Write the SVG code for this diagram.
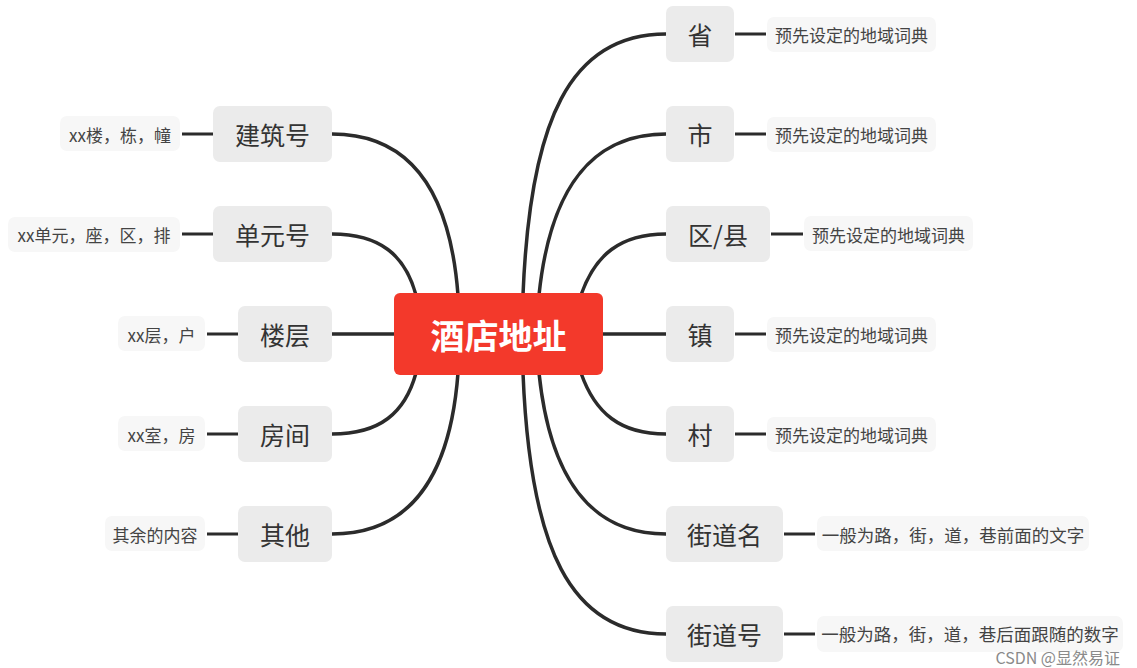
<svg xmlns="http://www.w3.org/2000/svg" width="1137" height="668" viewBox="0 0 1137 668">
<style>
.c{fill:none;stroke:#2b2b2b;stroke-width:3.5;stroke-linecap:round}
.l{fill:none;stroke:#2b2b2b;stroke-width:3}
.n rect{fill:#ebebeb}
.n text{font-family:"Noto Sans CJK SC","Noto Sans",sans-serif;font-size:25px;fill:#333;text-anchor:middle;dominant-baseline:central}
.f rect{fill:#f7f7f7}
.f text{font-family:"Noto Sans CJK SC","Noto Sans",sans-serif;font-size:17px;fill:#444;text-anchor:middle;dominant-baseline:central}
</style>
<rect width="1137" height="668" fill="#ffffff"/>
<g id="connectors">
<path class="c" d="M458 295 C450 190 410 134 332 134"/>
<path class="c" d="M416 295 C405 255 380 234 332 234"/>
<path class="c" d="M394 334 L332 334"/>
<path class="c" d="M416 373 C405 413 380 434 332 434"/>
<path class="c" d="M458 373 C450 478 410 534 332 534"/>
<path class="c" d="M523 295 C530 120 570 34 666 34"/>
<path class="c" d="M539 295 C550 190 590 134 666 134"/>
<path class="c" d="M581 295 C595 255 620 234 666 234"/>
<path class="c" d="M603 334 L666 334"/>
<path class="c" d="M581 373 C595 413 620 434 666 434"/>
<path class="c" d="M539 373 C550 478 590 534 666 534"/>
<path class="c" d="M523 373 C530 548 570 634 666 634"/>
<path class="l" d="M182 134H213M182 234H213M207 334H238M207 434H238M207 534H238"/>
<path class="l" d="M735 34H766M735 134H766M771 234H803M735 334H766M735 434H766M784 534H815M784 634H815"/>
</g>
<g id="center">
<rect x="394" y="293" width="209" height="82" rx="6" fill="#f3392b"/>
<text x="498.5" y="334" font-family="'Noto Sans CJK SC','Noto Sans',sans-serif" font-size="34" font-weight="bold" fill="#ffffff" text-anchor="middle" dominant-baseline="central">酒店地址</text>
</g>
<g id="n-jianzhu" class="n"><rect x="213" y="106" width="119" height="56" rx="7"/><text x="272.5" y="134">建筑号</text></g>
<g id="n-danyuan" class="n"><rect x="213" y="206" width="119" height="56" rx="7"/><text x="272.5" y="234">单元号</text></g>
<g id="n-louceng" class="n"><rect x="238" y="306" width="94" height="56" rx="7"/><text x="285" y="334">楼层</text></g>
<g id="n-fangjian" class="n"><rect x="238" y="406" width="94" height="56" rx="7"/><text x="285" y="434">房间</text></g>
<g id="n-qita" class="n"><rect x="238" y="506" width="94" height="56" rx="7"/><text x="285" y="534">其他</text></g>
<g id="n-sheng" class="n"><rect x="666" y="6" width="68" height="56" rx="7"/><text x="700" y="34">省</text></g>
<g id="n-shi" class="n"><rect x="666" y="106" width="68" height="56" rx="7"/><text x="700" y="134">市</text></g>
<g id="n-qu" class="n"><rect x="666" y="206" width="104" height="56" rx="7"/><text x="718" y="234">区/县</text></g>
<g id="n-zhen" class="n"><rect x="666" y="306" width="68" height="56" rx="7"/><text x="700" y="334">镇</text></g>
<g id="n-cun" class="n"><rect x="666" y="406" width="68" height="56" rx="7"/><text x="700" y="434">村</text></g>
<g id="n-jiedaoming" class="n"><rect x="666" y="506" width="117" height="56" rx="7"/><text x="724.5" y="534">街道名</text></g>
<g id="n-jiedaohao" class="n"><rect x="666" y="606" width="117" height="56" rx="7"/><text x="724.5" y="634">街道号</text></g>
<g id="f-jianzhu" class="f"><rect x="60" y="116" width="120" height="35" rx="7"/><text x="120" y="134">xx楼，栋，幢</text></g>
<g id="f-danyuan" class="f"><rect x="8" y="217" width="172" height="35" rx="7"/><text x="94" y="234">xx单元，座，区，排</text></g>
<g id="f-louceng" class="f"><rect x="118" y="316" width="87" height="35" rx="7"/><text x="161.5" y="334">xx层，户</text></g>
<g id="f-fangjian" class="f"><rect x="118" y="416" width="87" height="35" rx="7"/><text x="161.5" y="434">xx室，房</text></g>
<g id="f-qita" class="f"><rect x="105" y="516" width="100" height="35" rx="7"/><text x="155" y="534">其余的内容</text></g>
<g id="f-sheng" class="f"><rect x="767" y="17" width="169" height="35" rx="7"/><text x="851.5" y="34">预先设定的地域词典</text></g>
<g id="f-shi" class="f"><rect x="767" y="117" width="169" height="35" rx="7"/><text x="851.5" y="134">预先设定的地域词典</text></g>
<g id="f-qu" class="f"><rect x="804" y="216" width="169" height="35" rx="7"/><text x="888.5" y="234">预先设定的地域词典</text></g>
<g id="f-zhen" class="f"><rect x="767" y="317" width="169" height="35" rx="7"/><text x="851.5" y="334">预先设定的地域词典</text></g>
<g id="f-cun" class="f"><rect x="767" y="417" width="169" height="35" rx="7"/><text x="851.5" y="434">预先设定的地域词典</text></g>
<g id="f-jiedaoming" class="f"><rect x="817" y="516" width="272" height="35" rx="7"/><text x="953" y="534" style="font-size:17.5px">一般为路，街，道，巷前面的文字</text></g>
<g id="f-jiedaohao" class="f"><rect x="817" y="616" width="306" height="36" rx="7"/><text x="970" y="633" style="font-size:17.5px">一般为路，街，道，巷后面跟随的数字</text></g>
<text x="1120" y="664" font-family="'Noto Sans CJK SC','Noto Sans',sans-serif" font-size="16" fill="#8a8a8a" text-anchor="end">CSDN @显然易证</text>
</svg>
